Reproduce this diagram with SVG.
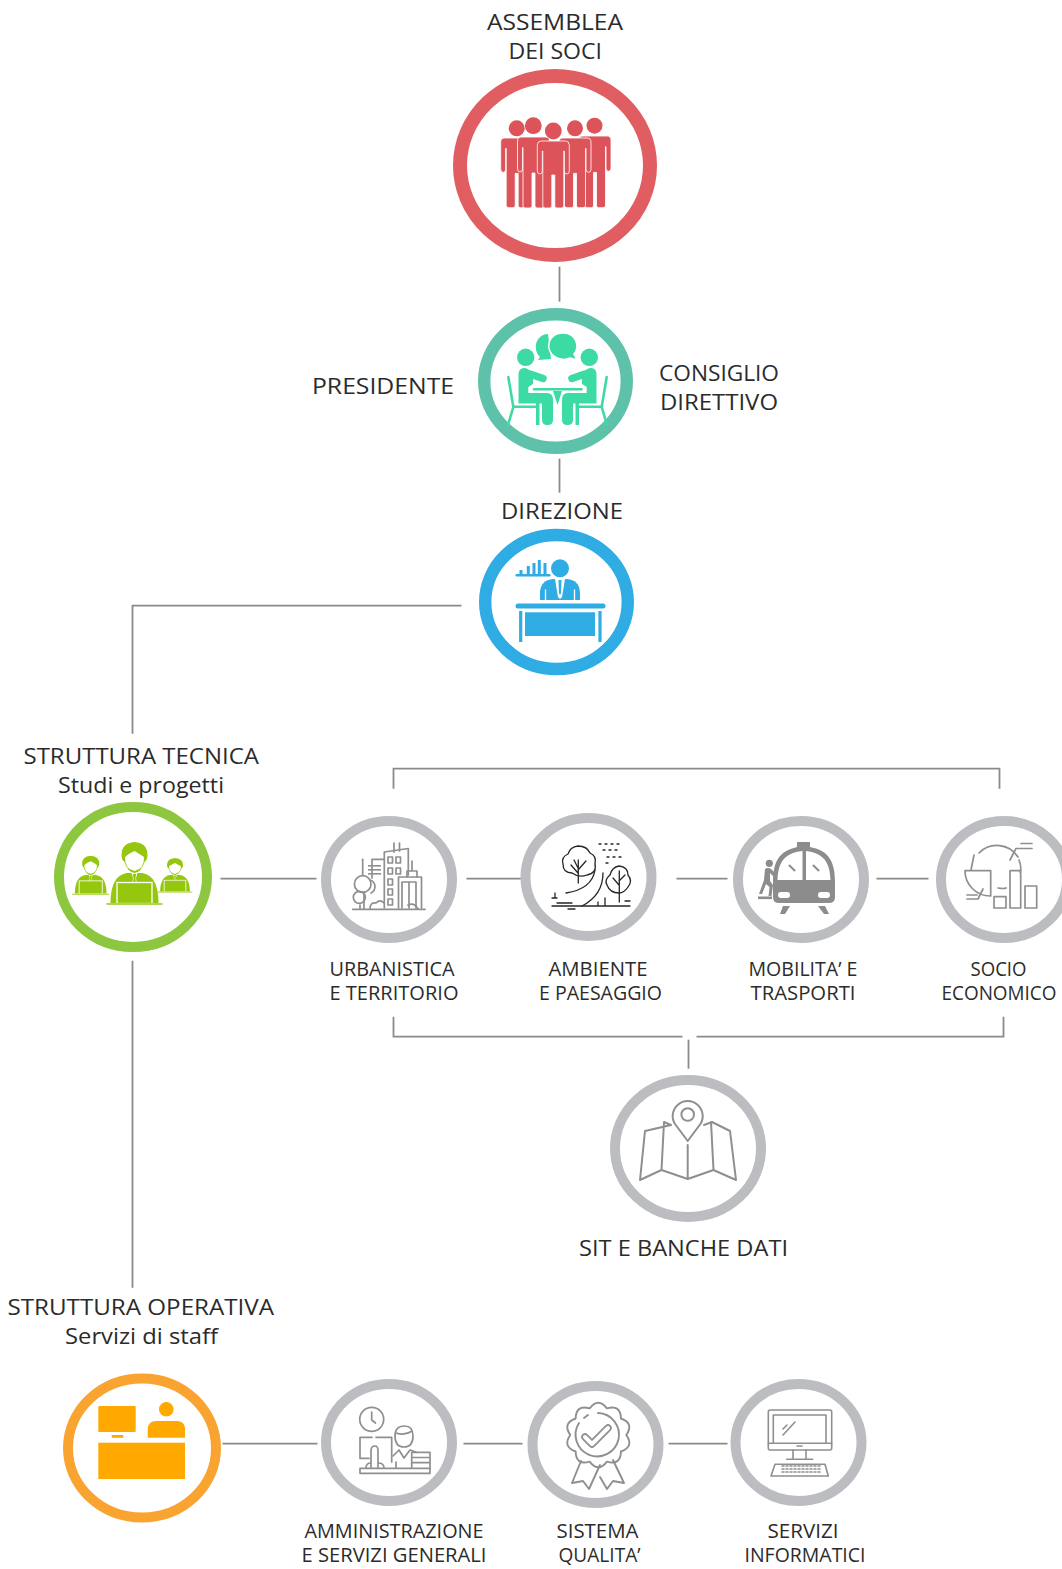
<svg xmlns="http://www.w3.org/2000/svg" xmlns:xlink="http://www.w3.org/1999/xlink" width="1062" height="1569" viewBox="0 0 1062 1569">
<style>
text{font-family:"Open Sans","Liberation Sans",sans-serif;fill:#2b2b2b}
.h{font-size:22px}.s{font-size:19.5px}
.ring{fill:none;stroke:#BCBDC0;stroke-width:10}
.line{fill:none;stroke:#8a8a8a;stroke-width:1.8}
.g{fill:none;stroke:#8f8f8f;stroke-width:1.7;stroke-linejoin:round;stroke-linecap:round}
.k{fill:none;stroke:#262626;stroke-width:1.3;stroke-linecap:round;stroke-linejoin:round}
</style>
<defs>
<path id="man" d="M-16,4Q-16,0-12,0H12Q16,0 16,4V30Q16,33 13.5,33Q11,33 11,30V10H10.5V65Q10.5,67 8,67H3.5Q1.5,67 1.5,65V34H-1.5V65Q-1.5,67-3.5,67H-8Q-10.5,67-10.5,65V10H-11V30Q-11,33-13.5,33Q-16,33-16,30Z" fill="#DC5359" stroke="#fff" stroke-width=".8"/>
<g id="sitter" fill="#3BDBA3">
<circle cx="525.7" cy="357.3" r="8.7"/>
<path d="M518.5,375Q518.5,368 524,368Q528,368 531,372L533,374.5V384L528.3,387V393H547Q553,393 553,400V420Q553,425 547.5,425Q542,425 542,420V403.5H518.5Z"/>
<path d="M530,374L543,378.5" fill="none" stroke="#3BDBA3" stroke-width="7.5" stroke-linecap="round"/>
<path d="M536,403H539.5V425H536Z"/>
<path d="M508.3,377L513.3,406.7H537M513.3,407L508,425" fill="none" stroke="#3BDBA3" stroke-width="2.6" stroke-linecap="round"/>
</g>
<g id="worker">
<path d="M-24,30Q-24,3-8,0H8Q24,3 24,30Z" fill="#96C70F"/>
<path d="M-3,0H3L1.5,5L2.5,13H-2.5L-1.5,5Z" fill="#fff"/>
<path d="M-1.8,1H1.8L1,5L1.6,11H-1.6L-1,5Z" fill="#96C70F"/>
<path d="M-13,-18Q-13,-30 0,-31Q13,-30 13,-18Q13,-13 10,-11Q7,-1 0,0Q-7,-1-10,-11Q-13,-13-13,-18Z" fill="#96C70F"/>
<path d="M-9.5,-16Q-5,-20 0,-22Q5,-19 9.5,-16Q10,-4 0,-2Q-10,-4-9.5,-16Z" fill="#fff"/>
<rect x="-17.5" y="9.5" width="35" height="21" fill="#96C70F" stroke="#fff" stroke-width="1.3"/>
<path d="M-28,31H28" stroke="#96C70F" stroke-width="1.4"/>
</g>
</defs>

<g id="connectors" transform="translate(.5,.7)">
<path class="line" d="M559,266V301"/>
<path class="line" d="M559,458V492"/>
<path class="line" d="M461,605H132V733"/>
<path class="line" d="M132,960V1287"/>
<path class="line" d="M220,878H316"/>
<path class="line" d="M466,878H521"/>
<path class="line" d="M676,878H727"/>
<path class="line" d="M876,878H928"/>
<path class="line" d="M393,788V768H999V788"/>
<path class="line" d="M393,1016V1036H682"/>
<path class="line" d="M696,1036H1003V1016"/>
<path class="line" d="M688,1039V1068"/>
<path class="line" d="M222,1443H317"/>
<path class="line" d="M463,1443H522"/>
<path class="line" d="M668,1443H727"/>
</g>

<g id="assemblea">
<ellipse cx="555" cy="165.5" rx="95" ry="89.5" fill="none" stroke="#E05E62" stroke-width="14"/>
<g fill="#DC5359"><circle cx="516.7" cy="128.3" r="8"/><circle cx="533.3" cy="125.7" r="8.4"/><circle cx="575" cy="128.3" r="8"/><circle cx="594.5" cy="125.7" r="8"/><circle cx="553.3" cy="131" r="8.4"/></g>
<use xlink:href="#man" href="#man" transform="translate(516.7,138) scale(1,1.04)"/>
<use xlink:href="#man" href="#man" transform="translate(595,136) scale(1,1.07)"/>
<use xlink:href="#man" href="#man" transform="translate(533.5,137) scale(1,1.06)"/>
<use xlink:href="#man" href="#man" transform="translate(575,138) scale(1,1.04)"/>
<use xlink:href="#man" href="#man" transform="translate(553.3,141)"/>
<text class="h" x="487" y="30" textLength="136" lengthAdjust="spacingAndGlyphs">ASSEMBLEA</text>
<text class="h" x="508.5" y="59" textLength="93.5" lengthAdjust="spacingAndGlyphs">DEI SOCI</text>
</g>

<g id="consiglio">
<ellipse cx="555.5" cy="381" rx="71.3" ry="66.8" fill="none" stroke="#5EC2AB" stroke-width="12.4"/>
<use xlink:href="#sitter" href="#sitter"/>
<use xlink:href="#sitter" href="#sitter" transform="translate(1115,0) scale(-1,1)"/>
<path d="M534,389.3H581.5" stroke="#3BDBA3" stroke-width="2.4" stroke-linecap="round"/>
<path d="M553,391H562L557.5,405Z" fill="#3BDBA3"/>
<path d="M548,334A12,13 0 0 0 540,357L538,360L551,359Z" fill="#3BDBA3"/>
<path d="M563.5,333A13.5,13 0 0 0 556,357.5Q563,361 570,358L577,360L574,354A13.5,13 0 0 0 563.5,333Z" fill="#3BDBA3" stroke="#fff" stroke-width="1.5"/>
<text class="h" x="312" y="394" textLength="142" lengthAdjust="spacingAndGlyphs">PRESIDENTE</text>
<text class="h" x="659" y="381" textLength="120" lengthAdjust="spacingAndGlyphs">CONSIGLIO</text>
<text class="h" x="660" y="410" textLength="118" lengthAdjust="spacingAndGlyphs">DIRETTIVO</text>
</g>

<g id="direzione">
<ellipse cx="556.5" cy="602" rx="71.3" ry="67" fill="none" stroke="#2FACE3" stroke-width="12.4"/>
<circle cx="560" cy="568.3" r="9" fill="#2FACE3"/>
<path d="M516.7,575.3H549.3" stroke="#2FACE3" stroke-width="2.4" stroke-linecap="round"/>
<path d="M521,574V570M528.3,574V566M534,574V563M539.3,574V560M545,574V563" stroke="#2FACE3" stroke-width="3"/>
<path d="M540,600V592Q541,580 553,579H567Q579,580 580,592V600Z" fill="#2FACE3"/>
<path d="M545.5,589.5V600M574.5,589.5V600" stroke="#fff" stroke-width="1.3"/>
<path d="M555,579H565L562,597L560,599L558,597Z" fill="#fff"/>
<path d="M558.5,580H561.5L561,593L560,595L559,593Z" fill="#2FACE3"/>
<path d="M518,606H603" stroke="#2FACE3" stroke-width="5" stroke-linecap="round"/>
<rect x="525" y="612.3" width="70" height="23.7" fill="#2FACE3"/>
<path d="M520.7,611V642M600,611V642" stroke="#2FACE3" stroke-width="3.2"/>
<text class="h" x="501" y="519" textLength="122" lengthAdjust="spacingAndGlyphs">DIREZIONE</text>
</g>

<g id="struttura-tecnica">
<ellipse cx="133" cy="877" rx="74" ry="70" fill="none" stroke="#8DC63F" stroke-width="10"/>
<use xlink:href="#worker" href="#worker" transform="translate(90.7,875) scale(.66,.62)"/>
<use xlink:href="#worker" href="#worker" transform="translate(175,875) scale(.62,.55)"/>
<use xlink:href="#worker" href="#worker" transform="translate(134.5,873)"/>
<text class="h" x="23.5" y="764" textLength="235.5" lengthAdjust="spacingAndGlyphs">STRUTTURA TECNICA</text>
<text class="h" x="58" y="793" textLength="166" lengthAdjust="spacingAndGlyphs">Studi e progetti</text>
</g>

<g id="urbanistica">
<ellipse class="ring" cx="389" cy="879.5" rx="63" ry="58.5"/>
<g class="g">
<path d="M352.7,909.3H425"/>
<path d="M372,878V859.3H384"/>
<path d="M362.7,875V859.3"/>
<path d="M384.3,908V852L408.3,848.5V875"/>
<path d="M394,852V843M399.5,851V843"/>
<path d="M388,857h4.5v6h-4.5zM396,857h4.5v6h-4.5zM388,868h4.5v6h-4.5zM396,868h4.5v6h-4.5zM388,879h4.5v6h-4.5zM388,889h4.5v6h-4.5zM388,899h4.5v6h-4.5z"/>
<path d="M398.5,908V877H421.5V908"/>
<path d="M402,908V882H416V908M409,882V908"/>
<path d="M407,877V871H417V877M412,871V861"/>
<circle cx="362.7" cy="884" r="8.3"/><path d="M370,880A7,7 0 0 1 371,893"/>
<circle cx="359.3" cy="897.3" r="6"/>
<path d="M360,905V909M364,892V909"/>
<path d="M370,909Q370,902 376,903Q380,899 384,903M408,905Q414,902 418,909"/>
</g>
<g fill="#8f8f8f"><rect x="368" y="865" width="13" height="1.6"/><rect x="368" y="869" width="13" height="1.6"/><rect x="368" y="873" width="13" height="1.6"/></g>
<text class="s" x="329.5" y="976" textLength="125" lengthAdjust="spacingAndGlyphs">URBANISTICA</text>
<text class="s" x="329.5" y="1000" textLength="129" lengthAdjust="spacingAndGlyphs">E TERRITORIO</text>
</g>

<g id="ambiente">
<ellipse class="ring" cx="588.5" cy="877" rx="63" ry="59"/>
<g class="k">
<path d="M578,846Q587,846 590,853Q597,856 595,864Q597,873 587,875Q579,878 572,873Q563,873 563,864Q561,857 568,854Q570,847 578,846Z"/>
<path d="M578.3,883V860M578,873L571,865M578,870L586,861M578,868L574,860"/>
<path d="M619,866Q628,867 628,875Q633,881 628,887Q624,893 619,893Q610,893 607,885Q604,880 610,875Q612,867 619,866Z"/>
<path d="M619.3,902V871M619,885L613,878M619,881L625,875"/>
<path d="M566,893Q592,889 595,870M582,906Q603,895 603,873"/>
<path d="M552,906H630M557,903H572M552,898H557M555,893V898M568,909H575M580,906H590M598,902V906M605,898V906M625,901H630"/>
</g>
<g class="k" stroke-dasharray="2 4"><path d="M599,844H622M603,850H617M607,857H622M606,863H612"/></g>
<text class="s" x="548.5" y="976" textLength="99" lengthAdjust="spacingAndGlyphs">AMBIENTE</text>
<text class="s" x="539" y="1000" textLength="123" lengthAdjust="spacingAndGlyphs">E PAESAGGIO</text>
</g>

<g id="mobilita">
<ellipse class="ring" cx="801" cy="879.5" rx="63" ry="58.5"/>
<path d="M773,882C773,864 778,853 792,848.5Q795,847.5 797,847V842H810V847Q813,847.5 816,848.5C830,853 835,864 835,882V897Q835,903 829,903H779Q773,903 773,897Z" fill="#8c8c8c"/>
<path d="M777.5,880C778,866 782,857 793,853Q797,851.5 802.5,851V880ZM806,851Q811,851.5 815,853C826,857 830,866 830.5,880H806Z" fill="#fff"/>
<path d="M789,865L795,871M813,865L819,871" stroke="#8c8c8c" stroke-width="2"/>
<rect x="778" y="892" width="12" height="6" rx="3" fill="#fff"/><rect x="818" y="892" width="12" height="6" rx="3" fill="#fff"/>
<path d="M783,906H790L785,914H780ZM818,906H825L829,914H824Z" fill="#8c8c8c"/>
<circle cx="769.3" cy="863.3" r="3.6" fill="#8c8c8c"/>
<path d="M765,869Q768,867 771,869L775,873L773,876L770,873V881L773,885L771.5,896H768.5L769.5,887L766,884L762,894H759L763,883L764,880Z" fill="#8c8c8c"/>
<rect x="758" y="896.5" width="14" height="2.6" fill="#8c8c8c"/>
<text class="s" x="748.5" y="976" textLength="109" lengthAdjust="spacingAndGlyphs">MOBILITA’ E</text>
<text class="s" x="750.5" y="1000" textLength="105" lengthAdjust="spacingAndGlyphs">TRASPORTI</text>
</g>

<g id="socio">
<ellipse class="ring" cx="1004" cy="879.5" rx="63" ry="58.5"/>
<g class="g" stroke="#999">
<path d="M979,853A25,25 0 0 1 1018,857M974,855L971,870M1019,860Q1022,868 1020,872M1006,888Q1004,889 998,888"/>
<path d="M965,870.7H990.7V896A25.3,25.3 0 0 1 965,870.7Z"/>
<path d="M994,896.7H1006V908H994ZM1010,870.7H1020.7V908H1010ZM1025,886H1036.7V908H1025Z"/>
<path d="M1010,860L1016,848.5H1032M1021,843.5H1032"/>
<path d="M983,889L978,899H967M967,895H977"/>
</g>
<text class="s" x="970.5" y="976" textLength="56" lengthAdjust="spacingAndGlyphs">SOCIO</text>
<text class="s" x="941.5" y="1000" textLength="115" lengthAdjust="spacingAndGlyphs">ECONOMICO</text>
</g>

<g id="sit">
<ellipse class="ring" cx="688" cy="1148.5" rx="73" ry="68.5"/>
<g class="g" style="stroke-width:2">
<path d="M687.7,1141L675,1124A15,15 0 1 1 700.4,1124Z"/>
<circle cx="687.7" cy="1114.5" r="6.3"/>
<path d="M671,1125L645,1131L640,1180L661.5,1170L664,1122L671,1125M704,1125L712,1122L730,1131L736,1180L713.5,1170L711,1122M661.5,1170L687.7,1179L713.5,1170M687.7,1145V1179"/>
</g>
<text class="h" x="579" y="1256" textLength="209" lengthAdjust="spacingAndGlyphs">SIT E BANCHE DATI</text>
</g>

<g id="struttura-operativa">
<ellipse cx="142" cy="1448" rx="74" ry="69.5" fill="none" stroke="#F9A431" stroke-width="10"/>
<g fill="#FFA900">
<rect x="98.3" y="1406" width="37.4" height="26" rx="1"/>
<rect x="111.7" y="1435" width="11.6" height="2.8"/>
<circle cx="166.3" cy="1409.3" r="7.3"/>
<path d="M147.7,1437.7V1428Q149,1421 156,1421H177Q184,1421 185,1428V1437.7Z"/>
<rect x="98.3" y="1442.7" width="86.7" height="36.3"/>
</g>
<text class="h" x="7.5" y="1315" textLength="266.5" lengthAdjust="spacingAndGlyphs">STRUTTURA OPERATIVA</text>
<text class="h" x="65" y="1344" textLength="153" lengthAdjust="spacingAndGlyphs">Servizi di staff</text>
</g>

<g id="amministrazione">
<ellipse class="ring" cx="389" cy="1442.5" rx="63" ry="58.5"/>
<g class="g">
<circle cx="371.7" cy="1419.3" r="12"/><path d="M371.7,1412V1420L375.5,1423"/>
<path d="M369,1458.3H360V1437.3H372M376,1437.3H391.7V1462"/>
<path d="M371,1468V1451Q371,1446 375,1446Q378,1446 378,1451V1468M366,1468Q366,1463 371,1463M378,1463Q384,1463 384,1468"/>
<path d="M360,1468.3H430V1473.3H360Z"/>
<path d="M411.7,1468V1452.3H430V1468M411.7,1457.5H430M411.7,1462.7H430"/>
<path d="M395,1436Q395,1426 404.5,1426Q413,1426 413,1436Q413,1447 404,1447Q395,1447 395,1436ZM396,1433Q405,1436 412,1431"/>
<path d="M393,1456L399,1450L404,1458L410,1450L416,1452"/>
<path d="M396,1468V1462"/>
</g>
<text class="s" x="304.5" y="1538" textLength="179" lengthAdjust="spacingAndGlyphs">AMMINISTRAZIONE</text>
<text class="s" x="301.5" y="1562" textLength="185" lengthAdjust="spacingAndGlyphs">E SERVIZI GENERALI</text>
</g>

<g id="sistema">
<ellipse class="ring" cx="595.5" cy="1444.5" rx="63" ry="58.5"/>
<g class="g" style="stroke-width:1.9">
<path transform="translate(598.3,1435)" d="M-8.65,-26.6Q0,-38 8.65,-26.6Q22.3,-30.7 22.65,-16.5Q36.1,-11.7 28,0Q36.1,11.7 22.65,16.5Q22.3,30.7 8.65,26.6Q0,38-8.65,26.6Q-22.3,30.7-22.65,16.5Q-36.1,11.7-28,0Q-36.1,-11.7-22.65,-16.5Q-22.3,-30.7-8.65,-26.6Z"/>
<path d="M579,1423A21.7,21.7 0 1 0 598,1413M584,1418L588,1415"/>
<path d="M581,1461L572,1483L583,1481L589,1489L600,1465M600,1477L607,1489L613,1481L624,1483L613,1460"/>
</g>
<path d="M585,1437L592,1444L608,1428" fill="none" stroke="#8f8f8f" stroke-width="7.5" stroke-linecap="round" stroke-linejoin="round"/>
<path d="M585,1437L592,1444L608,1428" fill="none" stroke="#fff" stroke-width="4" stroke-linecap="round" stroke-linejoin="round"/>
<text class="s" x="556.5" y="1538" textLength="82" lengthAdjust="spacingAndGlyphs">SISTEMA</text>
<text class="s" x="558.5" y="1562" textLength="82" lengthAdjust="spacingAndGlyphs">QUALITA’</text>
</g>

<g id="servizi">
<ellipse class="ring" cx="798.5" cy="1442.5" rx="63" ry="58.5"/>
<g class="g" style="stroke-width:1.6">
<rect x="768.3" y="1410" width="63.4" height="40" rx="2"/>
<path d="M773.3,1443.3V1415H826V1443.3M768.3,1443.3H831.7"/>
<path d="M793,1450V1459M806,1450V1459M786.7,1459.3H812.7"/>
<path d="M775,1464.3H825L828.3,1476H771Z"/>
<path d="M782,1466H821M782,1469H821M782,1472H821" stroke-dasharray="2 2"/>
<path d="M783,1429L787,1425M783,1435L795,1422"/>
<path d="M797,1446H802"/>
</g>
<text class="s" x="767.5" y="1538" textLength="71" lengthAdjust="spacingAndGlyphs">SERVIZI</text>
<text class="s" x="744.5" y="1562" textLength="121" lengthAdjust="spacingAndGlyphs">INFORMATICI</text>
</g>
</svg>
